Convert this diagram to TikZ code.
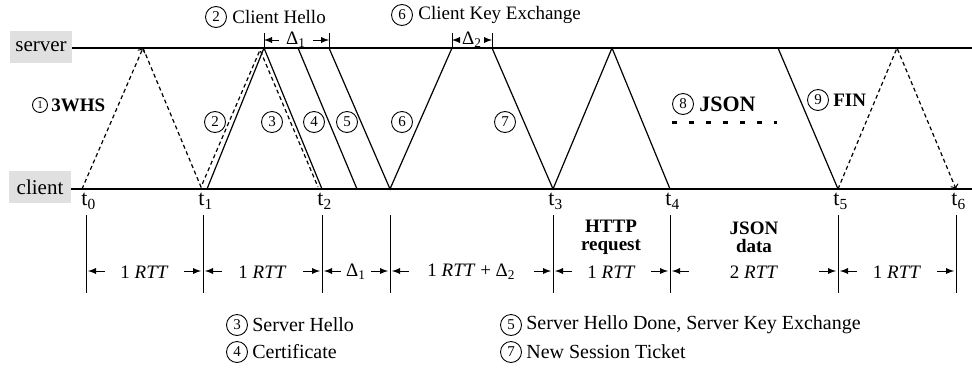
\documentclass[tikz,border=0pt]{standalone}
\usepackage{fontspec}
\setmainfont{Liberation Serif}
\usetikzlibrary{positioning}
\usetikzlibrary{arrows}

\begin{document}
\begin{tikzpicture}[x=0.5pt, y=-0.5pt, font=\fontsize{9.5}{11}\selectfont,
        host/.style={fill=black!12, minimum width=31pt, minimum height=16pt, inner sep=0pt, font=\fontsize{10.5}{12}\selectfont},
        num/.style={circle, draw, line width=0.45pt, inner sep=0pt, minimum size=10.5pt, font=\fontsize{7.5}{8}\selectfont},
        msg/.style={line width=0.6pt},
        ack/.style={line width=0.6pt, dash pattern=on 2pt off 1.5pt},
        bar/.style={line width=0.5pt},
        gap/.style={->, >=latex, line width=0.4pt},
        dots/.style={line width=1.5pt, dash pattern=on 2.25pt off 6.25pt},
        tlabel/.style={anchor=north west, inner sep=0pt, font=\fontsize{11}{13}\selectfont},
        txt/.style={inner sep=0pt, font=\fontsize{9.5}{11}\selectfont},
        legend/.style={inner sep=0pt, font=\fontsize{10}{12}\selectfont},
        bold/.style={inner sep=0pt, font=\fontsize{9.5}{11}\selectfont\bfseries},
        phase/.style={align=center, inner sep=0pt, font=\fontsize{9.5}{9}\selectfont\bfseries}]
    \useasboundingbox (0,0) rectangle (972,370);

    \node[host] (server_box) at (41,47) {server};
    \node[host] (client_box) at (40,187) {client};
    \coordinate (server_end) at (972,48);
    \coordinate (client_end) at (972,189);
    \draw[msg] (server_box.east |- server_end) -- (server_end);
    \draw[msg] (client_box.east |- client_end) -- (client_end);

    \foreach \i/\x in {0/86, 1/203, 2/322, 3/553, 4/670, 5/838, 6/956} {
        \coordinate (t\i) at (\x,189);
        \node[tlabel] (t\i_label) at ([shift={(-5,4)}]t\i) {t\textsubscript{\i}};
    }
    \coordinate (cert_recv) at (357,189);
    \coordinate (key_sent) at (390,189);

    \coordinate (syn_ack) at (143,48);
    \coordinate (hello_recv) at (264,48);
    \coordinate (cert_sent) at (298,48);
    \coordinate (done_sent) at (329,48);
    \coordinate (key_recv) at (452,48);
    \coordinate (ticket_sent) at (492,48);
    \coordinate (request_recv) at (612,48);
    \coordinate (fin_sent) at (778,48);
    \coordinate (fin_ack) at (897,48);

    \draw[ack, ->] ([xshift=-2pt]t0) -- (syn_ack);
    \draw[ack] (syn_ack) -- ([shift={(-2,-2)}]t1) -- ([shift={(-4,2)}]hello_recv) -- ([shift={(-4,-2)}]t2);
    \draw[msg] ([xshift=2pt]t1) -- (hello_recv) -- (t2);
    \draw[msg] (cert_sent) -- (cert_recv);
    \draw[msg] (done_sent) -- (key_sent) -- (key_recv);
    \draw[msg] (ticket_sent) -- (t3) -- (request_recv) -- (t4);
    \draw[msg] (fin_sent) -- (t5);
    \draw[ack, ->] (t5) -- (fin_ack) -- (t6);

    \draw[bar] (hello_recv) -- ++(0,-15);
    \draw[bar] (done_sent) -- ++(0,-15);
    \node (delta1) at (296,40) {Δ\textsubscript{1}};
    \draw[gap] (delta1.west) -- (hello_recv |- delta1);
    \draw[gap] (delta1.east) -- (done_sent |- delta1);
    \draw[bar] (key_recv) -- ++(0,-15);
    \draw[bar] (ticket_sent) -- ++(0,-15);
    \node (delta2) at (472,40) {Δ\textsubscript{2}};
    \draw[gap] (delta2.west) -- (key_recv |- delta2);
    \draw[gap] (delta2.east) -- (ticket_sent |- delta2);

    \node[num] (client_hello_key) at (216,17) {2};
    \node[txt, right=2.5pt of client_hello_key] (client_hello) {Client Hello};
    \node[num] (key_exchange_key) at (402,15) {6};
    \node[txt, right=2.5pt of key_exchange_key] (key_exchange) {Client Key Exchange};

    \node[num, minimum size=7.5pt, font=\fontsize{5.5}{6}\selectfont] (whs_num) at (40,105) {1};
    \node[bold, right=1.5pt of whs_num] (whs) {3WHS};
    \node[num] (client_hello_num) at (215,122) {2};
    \node[num] (server_hello_num) at (272,122) {3};
    \node[num] (cert_num) at (314,122) {4};
    \node[num] (done_num) at (347,122) {5};
    \node[num] (key_num) at (402,122) {6};
    \node[num] (ticket_num) at (505,122) {7};
    \node[num] (json_num) at (683,104) {8};
    \node[bold, right=2.5pt of json_num, font=\fontsize{11}{13}\selectfont\bfseries] (json) {JSON};
    \draw[dots] (672,122) -- (777,122);
    \node[num] (fin_num) at (818,100) {9};
    \node[bold, right=2pt of fin_num] (fin) {FIN};

    \foreach \x in {86, 203, 322, 390, 553, 670, 838, 956}
        \draw[bar] (\x,215) -- (\x,293);
    \foreach \a/\b/\len in {86/203/{1 \textit{RTT}}, 203/322/{1 \textit{RTT}}, 322/390/{Δ\textsubscript{1}},
            390/553/{1 \textit{RTT} + Δ\textsubscript{2}}, 553/670/{1 \textit{RTT}}, 670/838/{2 \textit{RTT}}, 838/956/{1 \textit{RTT}}} {
        \node[txt] (span_\a) at ({(\a+\b)/2},272) {\len};
        \draw[gap] (\a+19,271) -- (\a+2,271);
        \draw[gap] (\b-19,271) -- (\b-2,271);
    }
    \node[phase] (http_request) at (611,237) {HTTP\\request};
    \node[phase] (json_data) at (754,237) {JSON\\data};

    \node[num] (server_hello_key) at (237,325) {3};
    \node[legend, right=2pt of server_hello_key] (server_hello) {Server Hello};
    \node[num] (cert_key) at (237,352) {4};
    \node[legend, right=2pt of cert_key] (cert) {Certificate};
    \node[num] (done_key) at (511,325) {5};
    \node[legend, right=2pt of done_key] (done) {Server Hello Done, Server Key Exchange};
    \node[num] (ticket_key) at (511,352) {7};
    \node[legend, right=2pt of ticket_key] (ticket) {New Session Ticket};
\end{tikzpicture}
\end{document}
